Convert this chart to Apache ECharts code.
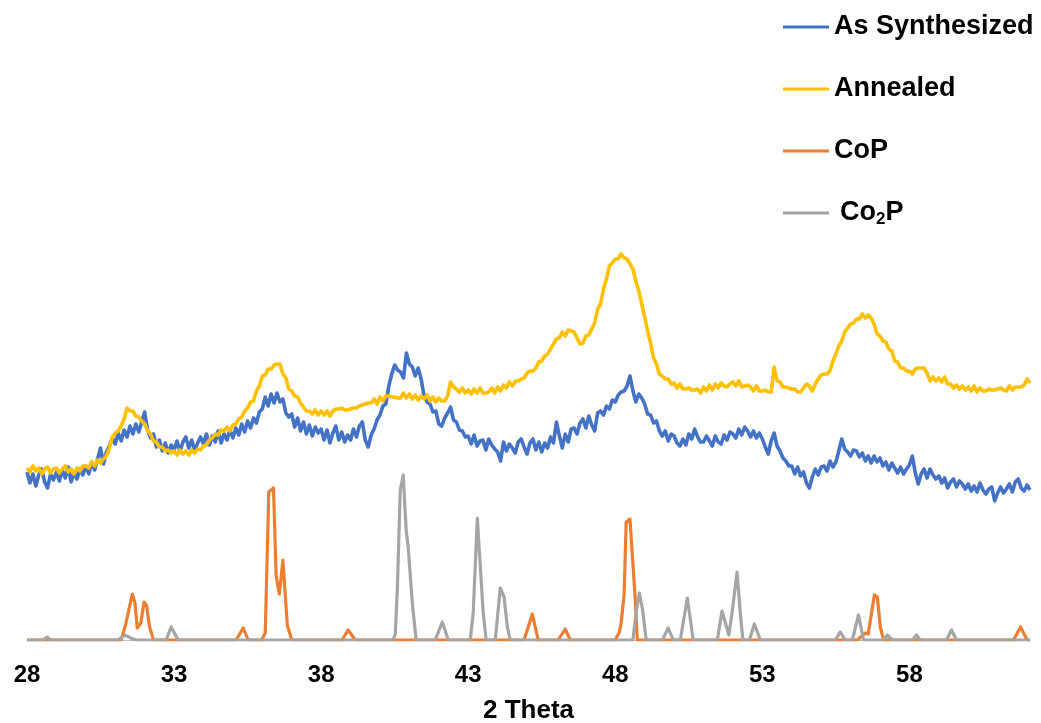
<!DOCTYPE html>
<html>
<head>
<meta charset="utf-8">
<script src="https://cdn.jsdelivr.net/npm/echarts@6/dist/echarts.min.js"></script>
<style>
html,body{margin:0;padding:0;background:#fff;}
#chart{width:1041px;height:723px;}
</style>
</head>
<body>
<div id="chart"></div>
<script>
// Scan: 2-theta from 28.0 in 0.1 degree steps
const scanStart = 28.0;
const scanStep = 0.1;

const seriesNames = ['As Synthesized', 'Annealed', 'CoP', 'Co2P'];
const xTickMin = 28, xTickInterval = 5, xMax = 62.1;
const xAxisTitle = '2 Theta';

// As Synthesized intensities (arbitrary units), one row per degree
const asSynthesized = [
  168,157,166,154,165,171,158,152,166,160, // 28
  168,159,170,162,173,158,168,161,171,165, // 29
  174,166,178,170,181,192,176,188,194,202, // 30
  196,207,199,210,203,214,206,216,208,218, // 31
  228,210,202,206,193,200,189,197,187,195, // 32
  190,199,188,198,203,192,200,189,197,203, // 33
  196,206,195,204,198,209,197,206,200,210, // 34
  202,212,205,216,208,219,212,222,217,228, // 35
  231,243,234,246,237,247,238,241,227,223, // 36
  226,213,222,209,218,206,215,204,213,207, // 37
  211,200,210,197,207,214,200,208,198,205, // 38
  200,211,203,214,218,200,193,205,211,220, // 39
  225,234,236,254,266,275,270,268,262,287, // 40
  276,273,264,272,261,244,238,236,228,229, // 41
  216,214,222,227,233,220,218,210,209,203, // 42
  204,196,205,194,199,200,190,201,195,191, // 43
  188,179,198,189,196,192,187,198,201,193, // 44
  186,197,201,190,198,188,197,192,203,197, // 45
  218,204,192,206,198,211,212,206,217,221, // 46
  212,224,215,209,227,229,225,234,231,240, // 47
  238,245,248,249,254,264,249,238,246,242, // 48
  236,226,225,217,219,209,204,209,199,206, // 49
  204,197,194,201,195,206,201,211,203,198, // 50
  198,204,199,194,204,198,196,205,200,208, // 51
  206,202,211,205,213,209,203,209,202,207, // 52
  201,193,186,199,207,194,189,182,179,174, // 53
  174,166,173,164,168,157,152,163,171,165, // 54
  173,174,169,179,173,178,189,201,191,188, // 55
  184,190,189,183,187,179,184,177,184,178, // 56
  182,174,178,170,177,172,167,173,166,171, // 57
  175,184,167,156,166,171,162,171,165,161, // 58
  164,157,162,152,158,161,153,159,156,151, // 59
  156,149,154,148,157,150,146,151,153,139, // 60
  147,153,147,151,156,148,158,161,152,149, // 61
  155,150                                  // 62
];

// Annealed intensities (arbitrary units), one row per degree
const annealed = [
  172,168,174,169,172,166,171,173,167,171, // 28
  172,167,171,174,168,171,166,172,169,174, // 29
  174,172,178,174,180,177,181,184,192,203, // 30
  207,209,214,221,232,229,229,224,223,219, // 31
  216,209,206,199,198,193,193,189,190,187, // 32
  189,185,190,186,189,185,190,187,191,190, // 33
  194,195,200,202,206,205,210,209,213,209, // 34
  215,216,221,223,229,232,238,239,249,254, // 35
  264,265,271,271,275,276,276,266,262,251, // 36
  249,244,243,237,233,229,229,226,230,225, // 37
  229,225,229,224,229,231,231,232,230,230, // 38
  231,232,232,234,235,236,237,237,241,236, // 39
  243,239,244,244,243,243,242,242,247,242, // 40
  246,241,245,240,244,241,245,239,243,238, // 41
  242,239,239,244,258,253,251,248,252,247, // 42
  250,246,251,247,252,247,247,248,252,247, // 43
  253,249,255,252,258,254,259,259,261,262, // 44
  267,269,269,272,278,279,284,286,291,296, // 45
  301,302,308,304,310,309,308,302,296,297, // 46
  304,305,311,317,331,336,351,361,374,377, // 47
  381,381,386,382,381,376,371,359,349,336, // 48
  323,309,297,282,276,266,264,261,261,256, // 49
  257,252,256,251,251,252,250,250,251,247, // 50
  253,249,255,250,256,252,257,254,253,256, // 51
  258,254,259,253,254,255,253,249,254,249, // 52
  249,250,248,248,273,259,258,253,253,252, // 53
  251,251,248,248,252,256,254,249,256,261, // 54
  265,266,266,269,279,286,294,299,308,312, // 55
  316,317,321,321,326,322,325,322,316,306, // 56
  304,299,298,291,289,279,278,272,272,269, // 57
  269,266,271,272,272,272,267,259,263,259, // 58
  262,258,263,256,256,252,255,251,254,250, // 59
  253,249,254,248,252,249,249,251,250,250, // 60
  251,252,250,249,254,250,253,253,253,255, // 61
  261,257                                  // 62
];

// CoP reference pattern
const copTheta = [28, 31.2, 31.35, 31.58, 31.67, 31.75, 31.87, 31.98, 32.07, 32.16, 32.3,
  35.11, 35.35, 35.52, 35.98, 36.1, 36.22, 36.38, 36.47, 36.58, 36.7, 36.85, 37.0,
  38.71, 38.92, 39.16, 44.9, 45.18, 45.38, 46.06, 46.3, 46.47,
  48.0, 48.14, 48.2, 48.3, 48.37, 48.5, 48.68, 48.75,
  56.23, 56.5, 56.6, 56.81, 56.91, 57.01, 57.12, 61.54, 61.78, 62.0, 62.1];
const copIntensity = [0, 0, 15, 46, 37, 12, 17, 38, 34, 14, 0,
  0, 12, 0, 0, 7, 148, 152, 64, 46, 80, 15, 0,
  0, 10, 0, 0, 26, 0, 0, 11, 0,
  0, 8, 17, 45, 118, 121, 40, 0,
  0, 7, 6, 45, 43, 13, 0, 0, 13, 0, 0];

// Co2P reference pattern
const co2pTheta = [28, 28.55, 28.68, 28.8, 31.1, 31.32, 31.53, 31.7, 32.73, 32.9, 33.14,
  40.45, 40.52, 40.59, 40.69, 40.79, 40.89, 40.96, 41.1, 41.23, 41.88, 42.12, 42.32,
  43.07, 43.17, 43.31, 43.51, 43.61, 43.92, 44.09, 44.22, 44.33, 44.43,
  48.6, 48.72, 48.82, 48.93, 49.05, 49.6, 49.8, 49.97, 50.21, 50.45, 50.65,
  51.47, 51.63, 51.86, 51.97, 52.14, 52.25, 52.34, 52.56, 52.73, 52.93,
  55.48, 55.65, 55.82, 56.06, 56.27, 56.44, 57.12, 57.25, 57.42,
  58.1, 58.24, 58.37, 59.26, 59.43, 59.6, 62.1];
const co2pIntensity = [0, 0, 3, 0, 0, 5, 2, 0, 0, 13, 0,
  0, 6, 50, 150, 165, 110, 93, 37, 0, 0, 18, 0,
  0, 27, 122, 27, 0, 0, 52, 43, 13, 0,
  0, 30, 47, 30, 0, 0, 12, 0, 0, 42, 0,
  0, 29, 5, 27, 68, 27, 0, 0, 16, 0,
  0, 8, 0, 0, 25, 0, 0, 5, 0,
  0, 5, 0, 0, 10, 0, 0];

function scanPairs(vals) {
  return vals.map((v, i) => [+(scanStart + i * scanStep).toFixed(2), v]);
}
function zipPairs(xs, ys) { return xs.map((x, i) => [x, ys[i]]); }

const chart = echarts.init(document.getElementById('chart'), null, {renderer: 'canvas'});
const font = "'Liberation Sans', Arial, sans-serif";
const colors = ['#4472C4', '#FFC000', '#ED7D31', '#A5A5A5'];

chart.setOption({
  animation: false,
  backgroundColor: '#ffffff',
  color: colors,
  grid: {left: 27, right: 11, top: 40, bottom: 83, containLabel: false, outerBoundsMode: 'none'},
  legend: {
    orient: 'vertical',
    left: 783,
    top: 12,
    padding: 0,
    icon: 'rect',
    itemWidth: 46,
    itemHeight: 3,
    itemGap: 32,
    data: seriesNames,
    formatter: function (name) {
      if (name === 'Co2P') return '{n|Co}{s|2}{m|P}';
      return name;
    },
    textStyle: {
      fontFamily: font, fontSize: 27, fontWeight: 'bold', color: '#000', lineHeight: 30,
      rich: {
        n: {fontFamily: font, fontSize: 27, fontWeight: 'bold', color: '#000', lineHeight: 30, padding: [0, 0, 0, 6]},
        m: {fontFamily: font, fontSize: 27, fontWeight: 'bold', color: '#000', lineHeight: 30},
        s: {fontFamily: font, fontSize: 17, fontWeight: 'bold', color: '#000', lineHeight: 16, verticalAlign: 'bottom'}
      }
    }
  },
  xAxis: {
    type: 'value',
    min: xTickMin,
    max: xMax,
    interval: xTickInterval,
    name: xAxisTitle,
    nameLocation: 'middle',
    nameGap: 58,
    nameTextStyle: {fontFamily: font, fontSize: 26, fontWeight: 'bold', color: '#000'},
    axisLine: {show: true, lineStyle: {color: '#BFBFBF', width: 1}},
    axisTick: {show: false},
    splitLine: {show: false},
    axisLabel: {
      showMaxLabel: false,
      margin: 23,
      fontFamily: font, fontSize: 24, fontWeight: 'bold', color: '#000'
    }
  },
  yAxis: {
    type: 'value', min: 0, max: 600, show: false,
    splitLine: {show: false}
  },
  series: [
    {name: seriesNames[0], type: 'line', showSymbol: false, symbol: 'none', data: scanPairs(asSynthesized),
     lineStyle: {width: 3.6, color: colors[0], join: 'round'}, z: 2},
    {name: seriesNames[1], type: 'line', showSymbol: false, symbol: 'none', data: scanPairs(annealed),
     lineStyle: {width: 3.6, color: colors[1], join: 'round'}, z: 3},
    {name: seriesNames[2], type: 'line', showSymbol: false, symbol: 'none', data: zipPairs(copTheta, copIntensity),
     lineStyle: {width: 3.2, color: colors[2], join: 'round'}, z: 4},
    {name: seriesNames[3], type: 'line', showSymbol: false, symbol: 'none', data: zipPairs(co2pTheta, co2pIntensity),
     lineStyle: {width: 3.2, color: colors[3], join: 'round'}, z: 5}
  ]
});
</script>
</body>
</html>
